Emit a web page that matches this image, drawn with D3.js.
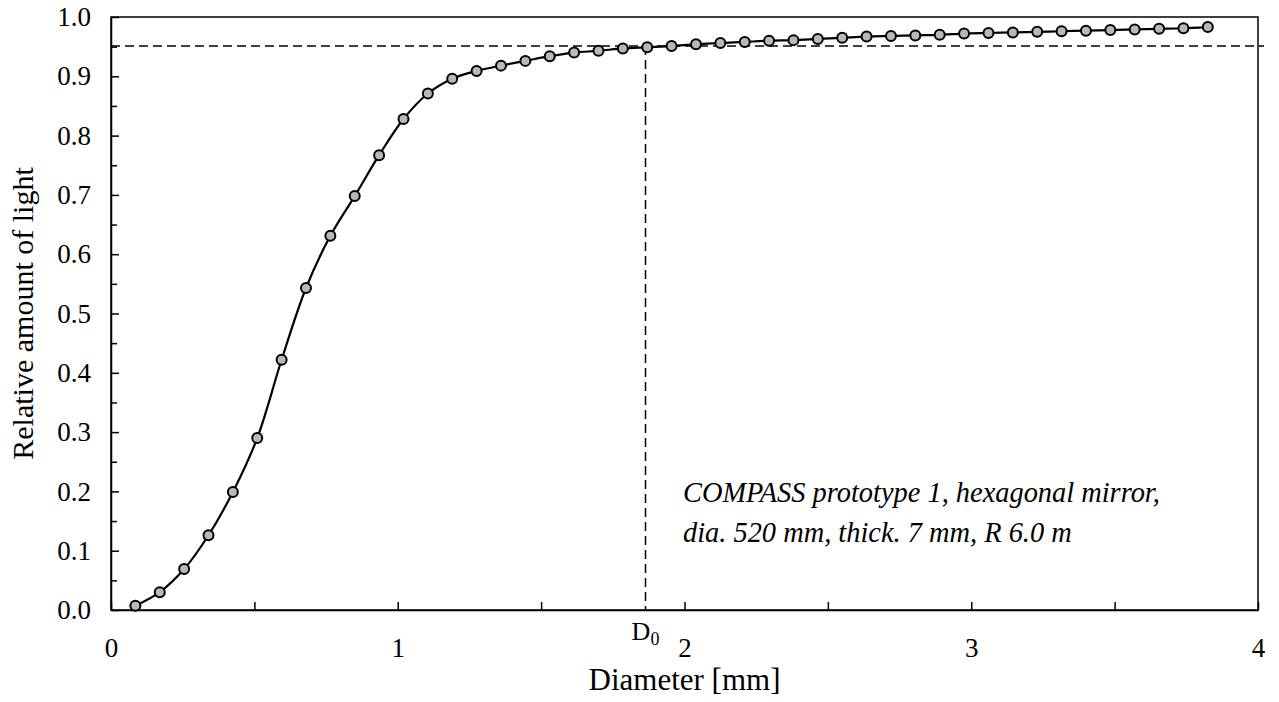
<!DOCTYPE html>
<html>
<head>
<meta charset="utf-8">
<script src="https://cdn.jsdelivr.net/npm/d3@7"></script>
<style>
  body { margin: 0; background: #fff; }
  svg { display: block; font-family: "Liberation Serif", "Times New Roman", serif; }
</style>
</head>
<body>
<div id="chart"></div>
<script>
// diameter [mm] of each sample point
const diameters = [0.085, 0.170, 0.255, 0.340, 0.425, 0.510, 0.595, 0.680, 0.765, 0.850,
  0.935, 1.020, 1.105, 1.190, 1.275, 1.360, 1.445, 1.530, 1.615, 1.700,
  1.785, 1.870, 1.955, 2.040, 2.125, 2.210, 2.295, 2.380, 2.465, 2.550,
  2.635, 2.720, 2.805, 2.890, 2.975, 3.060, 3.145, 3.230, 3.315, 3.400,
  3.485, 3.570, 3.655, 3.740, 3.825];
// relative amount of light
const lightValues = [0.007, 0.030, 0.069, 0.126, 0.199, 0.290, 0.422, 0.543, 0.631, 0.698,
  0.767, 0.828, 0.871, 0.896, 0.909, 0.918, 0.926, 0.934, 0.940, 0.943,
  0.947, 0.949, 0.951, 0.954, 0.956, 0.958, 0.960, 0.961, 0.963, 0.965,
  0.967, 0.968, 0.969, 0.970, 0.972, 0.973, 0.974, 0.975, 0.976, 0.977,
  0.978, 0.979, 0.980, 0.981, 0.983];
const xTicks = [0, 1, 2, 3, 4];
const yTicks = [0, 0.1, 0.2, 0.3, 0.4, 0.5, 0.6, 0.7, 0.8, 0.9, 1.0];
const threshold = 0.951;   // horizontal dashed level
const d0 = 1.864;          // D0 diameter
const noteLines = ["COMPASS prototype 1, hexagonal mirror,", "dia. 520 mm, thick. 7 mm, R 6.0 m"];

const W = 1279, H = 702;
const margin = { top: 17, right: 21, bottom: 92, left: 111 };
const width = W - margin.left - margin.right;
const height = H - margin.top - margin.bottom;
const serif = '"Liberation Serif", "Times New Roman", serif';

const svg = d3.select("#chart").append("svg")
    .attr("width", W)
    .attr("height", H);
const g = svg.append("g")
    .attr("transform", "translate(" + margin.left + "," + margin.top + ")");

const x = d3.scaleLinear().domain([0, 4]).range([0, width]);
const y = d3.scaleLinear().domain([0, 1]).range([height, 0]);

// black lines + serif labels on every axis group
function styleAxis(s) {
    s.attr("font-family", serif).attr("font-size", 27);
    s.selectAll("line, path").attr("stroke", "#000").attr("stroke-width", 1.5);
    s.selectAll("text").attr("fill", "#000")
        .style("font-family", serif).style("font-size", "27px");
}

// frame (top + right)
g.append("rect")
    .attr("x", 0).attr("y", 0)
    .attr("width", width).attr("height", height)
    .attr("fill", "none").attr("stroke", "#000").attr("stroke-width", 1.5);

// minor ticks
g.append("g")
    .attr("transform", "translate(0," + height + ")")
    .call(d3.axisBottom(x).tickValues(d3.range(0.5, 4, 1)).tickSize(-8).tickFormat(""))
    .call(s => s.select(".domain").remove())
    .call(styleAxis);
g.append("g")
    .call(d3.axisLeft(y).tickValues(d3.range(0.05, 1, 0.1)).tickSize(-6).tickFormat(""))
    .call(s => s.select(".domain").remove())
    .call(styleAxis);

// major axes
g.append("g")
    .attr("transform", "translate(0," + height + ")")
    .call(d3.axisBottom(x).tickValues(xTicks).tickSize(-8).tickSizeOuter(0).tickPadding(28).tickFormat(d3.format("d")))
    .call(styleAxis);
g.append("g")
    .call(d3.axisLeft(y).tickValues(yTicks).tickSize(-8).tickSizeOuter(0).tickPadding(20).tickFormat(d3.format(".1f")))
    .call(styleAxis);

// dashed guides
g.append("line")
    .attr("x1", 0).attr("x2", width + 6)
    .attr("y1", y(threshold)).attr("y2", y(threshold))
    .attr("stroke", "#000").attr("stroke-width", 1.5).attr("stroke-dasharray", "9,5");
g.append("line")
    .attr("x1", x(d0)).attr("x2", x(d0))
    .attr("y1", y(threshold)).attr("y2", height)
    .attr("stroke", "#000").attr("stroke-width", 1.5).attr("stroke-dasharray", "9,5");

// D0 label
const d0Label = g.append("text")
    .attr("x", x(d0)).attr("y", height + 30)
    .attr("text-anchor", "middle")
    .attr("font-size", 26);
d0Label.append("tspan").text("D");
d0Label.append("tspan").attr("font-size", 18).attr("dy", 5).text("0");

// curve + markers
const data = diameters.map((d, i) => ({ x: d, y: lightValues[i] }));
const line = d3.line()
    .x(d => x(d.x)).y(d => y(d.y))
    .curve(d3.curveCatmullRom.alpha(0.5));
g.append("path")
    .datum(data)
    .attr("d", line)
    .attr("fill", "none").attr("stroke", "#000").attr("stroke-width", 2.2);
g.selectAll(".pt")
    .data(data)
    .enter().append("circle")
    .attr("class", "pt")
    .attr("cx", d => x(d.x)).attr("cy", d => y(d.y))
    .attr("r", 5)
    .attr("fill", "#b8b8b8").attr("stroke", "#000").attr("stroke-width", 2);

// annotation
g.selectAll(".note")
    .data(noteLines)
    .enter().append("text")
    .attr("class", "note")
    .attr("x", 572).attr("y", (d, i) => 485 + i * 40)
    .attr("font-size", 28.4).attr("font-style", "italic")
    .text(d => d);

// axis titles
svg.append("text")
    .attr("x", margin.left + width / 2).attr("y", 690)
    .attr("text-anchor", "middle").attr("font-size", 31)
    .text("Diameter [mm]");
svg.append("text")
    .attr("transform", "translate(33," + (margin.top + height / 2) + ") rotate(-90)")
    .attr("text-anchor", "middle").attr("font-size", 30)
    .text("Relative amount of light");
</script>
</body>
</html>
